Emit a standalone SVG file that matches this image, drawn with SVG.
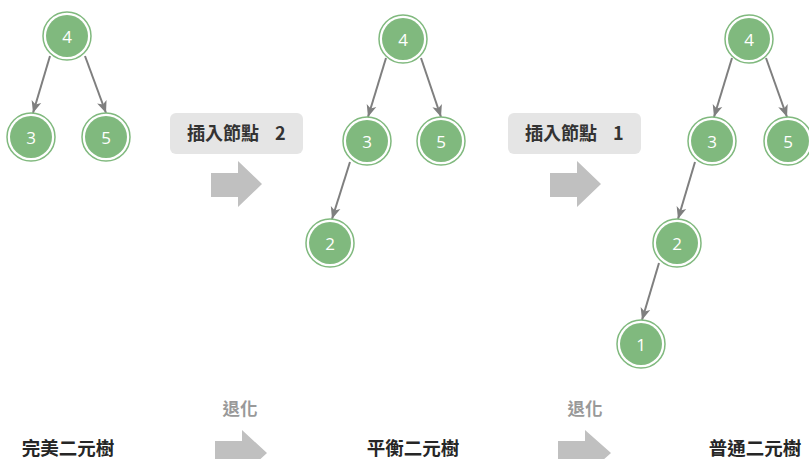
<svg xmlns="http://www.w3.org/2000/svg" width="809" height="459" viewBox="0 0 809 459">
<style>
.ring{fill:#ffffff;stroke:#80b97e;stroke-width:1.5}
.core{fill:#80b97e}
.num{fill:#ffffff;font-family:"Open Sans","DejaVu Sans",sans-serif;font-size:17px;text-anchor:middle;dominant-baseline:central}
.edge{stroke:#7f7f7f;stroke-width:2;fill:none;marker-end:url(#ah)}
.box{fill:#e5e5e5}
.blabel{fill:#333333;font-family:"Noto Sans CJK TC","Noto Sans CJK SC",sans-serif;font-size:18px;font-weight:bold}
.title{fill:#262626;font-family:"Noto Sans CJK TC","Noto Sans CJK SC",sans-serif;font-size:18.5px;font-weight:bold;text-anchor:middle;dominant-baseline:central}
.deg{fill:#999999;font-family:"Noto Sans CJK TC","Noto Sans CJK SC",sans-serif;font-size:17.5px;font-weight:bold;text-anchor:middle;dominant-baseline:central}
.big{fill:#c0c0c0}
</style>
<defs>
<marker id="ah" markerUnits="userSpaceOnUse" markerWidth="13" markerHeight="11" refX="12" refY="5.5" orient="auto" viewBox="0 0 13 11">
<path d="M0,0.5 L12,5.5 L0,10.5 L3,5.5 z" fill="#7f7f7f"/>
</marker>
<g id="nd"><circle class="ring" r="24"/><circle class="core" r="21"/></g>
</defs>
<g id="connectors">
<line class="edge" x1="50" y1="56" x2="33" y2="113"/>
<line class="edge" x1="85" y1="56" x2="106" y2="113"/>
<line class="edge" x1="386" y1="58" x2="368" y2="117"/>
<line class="edge" x1="421" y1="58" x2="441" y2="117"/>
<line class="edge" x1="350" y1="162" x2="332" y2="219"/>
<line class="edge" x1="732" y1="58" x2="714" y2="117"/>
<line class="edge" x1="766" y1="58" x2="787" y2="117"/>
<line class="edge" x1="695" y1="162" x2="678" y2="219"/>
<line class="edge" x1="659" y1="263" x2="642" y2="320"/>
</g>
<g id="t1n4"><use href="#nd" x="67" y="36"/><text class="num" x="67" y="36">4</text></g>
<g id="t1n3"><use href="#nd" x="31" y="137"/><text class="num" x="31" y="137">3</text></g>
<g id="t1n5"><use href="#nd" x="106" y="137"/><text class="num" x="106" y="137">5</text></g>
<g id="t2n4"><use href="#nd" x="403" y="39"/><text class="num" x="403" y="39">4</text></g>
<g id="t2n3"><use href="#nd" x="367" y="141"/><text class="num" x="367" y="141">3</text></g>
<g id="t2n5"><use href="#nd" x="441" y="141"/><text class="num" x="441" y="141">5</text></g>
<g id="t2n2"><use href="#nd" x="330" y="243"/><text class="num" x="330" y="243">2</text></g>
<g id="t3n4"><use href="#nd" x="749" y="39"/><text class="num" x="749" y="39">4</text></g>
<g id="t3n3"><use href="#nd" x="712" y="141"/><text class="num" x="712" y="141">3</text></g>
<g id="t3n5"><use href="#nd" x="788" y="141"/><text class="num" x="788" y="141">5</text></g>
<g id="t3n2"><use href="#nd" x="677" y="243"/><text class="num" x="677" y="243">2</text></g>
<g id="t3n1"><use href="#nd" x="641" y="344"/><text class="num" x="641" y="344">1</text></g>
<g id="step1">
<rect class="box" x="170" y="113" width="133" height="41" rx="6"/>
<text class="blabel" x="187" y="140">插入節點<tspan x="275">2</tspan></text>
<path class="big" d="M211,173 H238 V161 L262,184 L238,207 V197 H211 z"/>
</g>
<g id="step2">
<rect class="box" x="508" y="113" width="133" height="41" rx="6"/>
<text class="blabel" x="525" y="140">插入節點<tspan x="613">1</tspan></text>
<path class="big" d="M550,173 H577 V161 L601,184 L577,207 V197 H550 z"/>
</g>
<g id="labels">
<text class="title" x="68" y="447">完美二元樹</text>
<text class="title" x="413" y="447">平衡二元樹</text>
<text class="title" x="755" y="447">普通二元樹</text>
<text class="deg" x="240" y="407">退化</text>
<text class="deg" x="585" y="407">退化</text>
<path class="big" d="M215,441 H242 V430 L267,453 L242,476 V465 H215 z"/>
<path class="big" d="M558,441 H585 V430 L611,453 L585,476 V465 H558 z"/>
</g>
</svg>
